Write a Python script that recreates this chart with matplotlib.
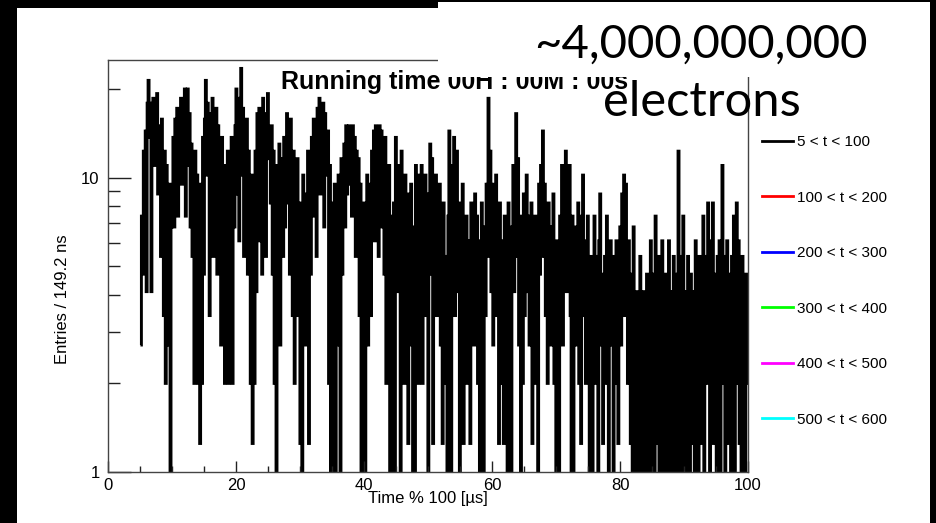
import numpy as np
import matplotlib
matplotlib.use("Agg")
import matplotlib.pyplot as plt
from matplotlib.lines import Line2D
from matplotlib.patches import Rectangle
from matplotlib.ticker import FixedLocator, NullFormatter

# Histogram of decay times folded modulo 100 us, bin width 149.2 ns
bin_width = 0.1492
first_edge = 5.07

entries_05_10 = [
    2.7, 7.4, 4.7, 12.3, 5.4, 14.4, 4.1, 17.9, 21.4, 13.7,
    17.9, 4.1, 15.8, 18.6, 11, 16.5, 12.3, 19.3, 8.8, 15,
    13.7, 5.4, 15.8, 10.2, 3.4, 12.3, 2.0, 11, 8.2, 2.7,
    9.5, 0, 6.8,
]
entries_10_20 = [
    8.2, 13.7, 6.8, 15.8, 11.6, 17.2, 7.4, 16.5, 12.3, 18.6,
    9.5, 17.9, 13, 20, 7.4, 15.8, 20, 11, 16.5, 6.8,
    13, 5.4, 11.6, 2.0, 12.3, 6.1, 10.2, 2.0, 8.8, 1.25,
    9.5, 2.0, 13.7, 4.7, 15.8, 21.4, 10.2, 17.9, 12.3, 3.4,
    16.5, 9.5, 18.6, 5.4, 14.4, 11, 17.2, 4.7, 15, 10.2,
    12.3, 2.7, 13.7, 6.1, 11, 2.0, 9.5, 4.1, 12.3, 2.0,
    10.2, 3.4, 13.7, 2.0, 11.6, 6.8, 15,
]
entries_20_30 = [
    20, 8.8, 16.5, 6.1, 18.6, 23.5, 10.2, 17.2, 5.4, 14.4,
    8.8, 15.8, 4.7, 12.3, 9.5, 2.0, 10.2, 1.25, 6.8, 2.0,
    12.3, 4.1, 16.5, 9.5, 17.2, 6.1, 13.7, 4.7, 18.6, 11,
    16.5, 5.4, 15.8, 19.3, 11.6, 14.4, 8.2, 15, 4.7, 12.3,
    2.0, 11, 0, 9.5, 4.1, 13, 2.7, 7.4, 11.6, 5.4,
    13.7, 6.8, 12.3, 16.5, 8.2, 14.4, 4.7, 15.8, 10.2, 3.4,
    12.3, 2.0, 9.5, 6.1, 11.6, 3.4, 8.2,
]
entries_30_40 = [
    1.25, 7.4, 0, 10.2, 4.1, 8.8, 2.7, 6.1, 12.3, 1.25,
    9.5, 4.7, 13.7, 7.4, 15.8, 10.2, 14.4, 5.4, 17.2, 12.3,
    18.6, 8.8, 15, 11.6, 17.9, 6.8, 16.5, 13, 10.2, 14.4,
    2.0, 11, 0, 8.2, 3.4, 0, 9.5, 0, 6.1, 4.1,
    10.2, 2.7, 0, 11.6, 4.7, 9.5, 13, 6.8, 15, 8.8,
    12.3, 15, 9.5, 14.4, 7.4, 15, 11, 13.7, 5.4, 12.3,
    8.2, 11.6, 3.4, 9.5, 0, 6.1, 0,
]
entries_40_50 = [
    8.2, 0, 4.1, 10.2, 2.7, 6.8, 9.5, 3.4, 12.3, 7.4,
    14.4, 6.1, 15, 10.2, 12.3, 5.4, 15, 8.8, 14.4, 6.8,
    11.6, 4.7, 13.7, 2.0, 9.5, 5.4, 11, 0, 7.4, 3.4,
    0, 8.2, 0, 13.7, 6.1, 11, 4.1, 9.5, 0, 12.3,
    3.4, 7.4, 2.0, 10.2, 4.7, 6.1, 1.25, 8.8, 3.4, 9.5,
    2.7, 0, 6.8, 0, 11, 4.1, 8.2, 2.0, 10.2, 5.4,
    11, 2.0, 7.4, 4.7, 10.2, 3.4, 8.8,
]
entries_50_60 = [
    0, 6.1, 13, 4.7, 11.6, 1.25, 8.8, 5.4, 10.2, 3.4,
    7.4, 4.1, 9.5, 2.7, 6.1, 1.25, 8.2, 3.4, 5.4, 2.0,
    0, 7.4, 14.4, 4.7, 0, 11, 6.1, 13.7, 3.4, 9.5,
    12.3, 4.1, 8.2, 0, 6.1, 2.7, 9.5, 1.25, 5.4, 3.4,
    7.4, 2.0, 4.7, 6.1, 1.25, 8.2, 3.4, 5.4, 2.7, 8.8,
    4.1, 7.4, 2.0, 6.1, 0, 4.7, 8.2, 2.7, 0, 6.8,
    3.4, 9.5, 5.4, 18.6, 6.8, 12.3, 4.1,
]
entries_60_70 = [
    9.5, 2.7, 7.4, 4.1, 10.2, 3.4, 6.1, 1.25, 8.2, 4.7,
    2.0, 6.1, 1.25, 7.4, 3.4, 5.4, 0, 8.2, 2.7, 4.7,
    0, 6.8, 11, 4.1, 9.5, 16.5, 5.4, 11.6, 2.7, 7.4,
    0, 4.7, 2.0, 8.8, 3.4, 6.1, 10.2, 4.1, 7.4, 2.7,
    5.4, 8.2, 1.25, 6.1, 3.4, 7.4, 2.0, 4.7, 0, 9.5,
    4.7, 11, 6.1, 14.4, 5.4, 9.5, 3.4, 7.4, 2.0, 8.2,
    3.4, 6.8, 2.7, 5.4, 8.8, 2.0, 4.7,
]
entries_70_80 = [
    0, 6.1, 3.4, 0, 7.4, 4.1, 11, 2.7, 8.2, 5.4,
    12.3, 4.1, 9.5, 6.1, 11, 3.4, 0, 7.4, 0, 5.4,
    2.7, 6.8, 3.4, 8.2, 2.0, 5.4, 1.25, 7.4, 10.2, 3.4,
    6.1, 2.0, 4.7, 7.4, 2.7, 0, 5.4, 3.4, 0, 4.1,
    7.4, 2.0, 5.4, 3.4, 0, 6.1, 8.8, 2.7, 4.7, 1.25,
    3.4, 5.4, 2.0, 7.4, 4.1, 0, 3.4, 6.1, 2.7, 4.7,
    0, 5.4, 2.0, 6.1, 3.4, 1.25, 4.7,
]
entries_80_90 = [
    6.8, 2.7, 8.8, 4.1, 10.2, 3.4, 9.5, 5.4, 2.0, 6.1,
    3.4, 1.25, 4.7, 0, 6.8, 2.0, 0, 4.1, 1.25, 3.4,
    0, 5.4, 2.0, 0, 4.1, 1.25, 3.4, 0, 4.7, 2.0,
    0, 3.4, 6.1, 0, 4.7, 2.7, 0, 7.4, 3.4, 1.25,
    5.4, 0, 4.1, 2.0, 6.1, 0, 3.4, 1.25, 4.7, 0,
    3.4, 6.1, 0, 4.1, 2.0, 0, 5.4, 1.25, 3.4, 0,
    4.7, 12.3, 2.7, 0, 5.4, 1.25, 7.4,
]
entries_90_100 = [
    0, 4.1, 2.0, 0, 5.4, 3.4, 0, 4.7, 1.25, 2.7,
    4.1, 0, 6.1, 2.0, 3.4, 0, 5.4, 1.25, 4.7, 2.7,
    7.4, 0, 3.4, 5.4, 2.0, 8.2, 3.4, 0, 6.1, 4.1,
    8.2, 1.25, 4.7, 2.7, 0, 5.4, 3.4, 6.1, 0, 4.1,
    11, 2.0, 5.4, 0, 3.4, 6.1, 1.25, 4.7, 2.7, 0,
    5.4, 3.4, 7.4, 0, 4.7, 8.2, 2.0, 6.1, 1.25, 4.1,
    0, 5.4, 2.7, 3.4, 0, 4.7, 2.0,
]

legend_labels = ["5 < t < 100", "100 < t < 200", "200 < t < 300",
                 "300 < t < 400", "400 < t < 500", "500 < t < 600"]
legend_colors = ["#000000", "#ff0000", "#0000ff", "#00ff00", "#ff00ff", "#00ffff"]

x_major = [0, 20, 40, 60, 80, 100]
y_major = [1, 10]
y_major_labels = ["1", "10"]
y_minor = [2, 3, 4, 5, 6, 7, 8, 9, 20]

entries = np.array(entries_05_10 + entries_10_20 + entries_20_30 + entries_30_40
                   + entries_40_50 + entries_50_60 + entries_60_70 + entries_70_80
                   + entries_80_90 + entries_90_100, dtype=float)
edges = first_edge + bin_width * np.arange(len(entries) + 1)

W, H = 936, 523
fig = plt.figure(figsize=(W / 100, H / 100), dpi=100, facecolor="black")

def fx(px):
    return px / W

def fy(py):
    return 1 - py / H

# white canvas behind the plot
fig.add_artist(Rectangle((fx(17), 0), fx(930) - fx(17), fy(8), transform=fig.transFigure,
                         facecolor="white", edgecolor="none", zorder=-5))

ax = fig.add_axes([fx(108), fy(472), fx(748) - fx(108), fy(60) - fy(472)])
ax.set_facecolor("white")
ax.stairs(entries, edges, color="black", lw=2.1, baseline=None)
ax.set_yscale("log")
ax.set_ylim(1, 25.1)
ax.set_xlim(0, 100)

ax.xaxis.set_major_locator(FixedLocator(x_major))
ax.set_xticklabels([str(v) for v in x_major])
ax.xaxis.set_minor_locator(FixedLocator(np.arange(5, 100, 5)))
ax.yaxis.set_major_locator(FixedLocator(y_major))
ax.set_yticklabels(y_major_labels)
ax.yaxis.set_minor_locator(FixedLocator(y_minor))
ax.yaxis.set_minor_formatter(NullFormatter())

ax.tick_params(axis="x", which="major", direction="in", length=8, width=1, color="#222",
               pad=4, labelsize=12, top=False)
ax.tick_params(axis="x", which="minor", direction="in", length=4, width=1, color="#222", top=False)
ax.tick_params(axis="y", which="major", direction="in", length=16.5, width=1, color="#222",
               pad=6, labelsize=12, right=False)
ax.tick_params(axis="y", which="minor", direction="in", length=8.5, width=1, color="#222", right=False)
for lab in ax.get_xticklabels() + ax.get_yticklabels():
    lab.set_family("Liberation Sans")
for sp in ax.spines.values():
    sp.set_color("#444")
    sp.set_linewidth(1)

ax.set_xlabel("Time % 100 [\u00b5s]", family="Liberation Sans", fontsize=12)
ax.xaxis.set_label_coords(0.5, -0.045)
ax.set_ylabel("Entries / 149.2 ns", family="Liberation Sans", fontsize=12)
ax.yaxis.set_label_coords(-0.06, 0.42)

handles = [Line2D([], [], color=c, lw=2) for c in legend_colors]
ax.legend(handles, legend_labels, loc="upper left", bbox_to_anchor=(fx(762), fy(135)),
          bbox_transform=fig.transFigure, frameon=False, borderpad=0, borderaxespad=0,
          handlelength=2.0, handletextpad=0.3, labelspacing=2.72,
          prop=dict(family="Liberation Sans", size=11))

fig.text(fx(281), fy(89.3), "Running time 00H : 00M : 00s", family="Liberation Sans",
         fontweight="bold", fontsize=18, va="baseline", ha="left", zorder=3)

# slide caption box laid over the top-right of the canvas
fig.add_artist(Rectangle((fx(438), fy(77)), fx(930) - fx(438), fy(2) - fy(77),
                         transform=fig.transFigure, facecolor="white", edgecolor="none", zorder=10))
fig.text(fx(534), fy(58), "~4,000,000,000", family="Lato", fontsize=34, va="baseline",
         ha="left", zorder=11)
fig.text(fx(603), fy(116), "electrons", family="Lato", fontsize=35.2, va="baseline",
         ha="left", zorder=11)

fig.savefig("out.png", dpi=100, facecolor=fig.get_facecolor())
